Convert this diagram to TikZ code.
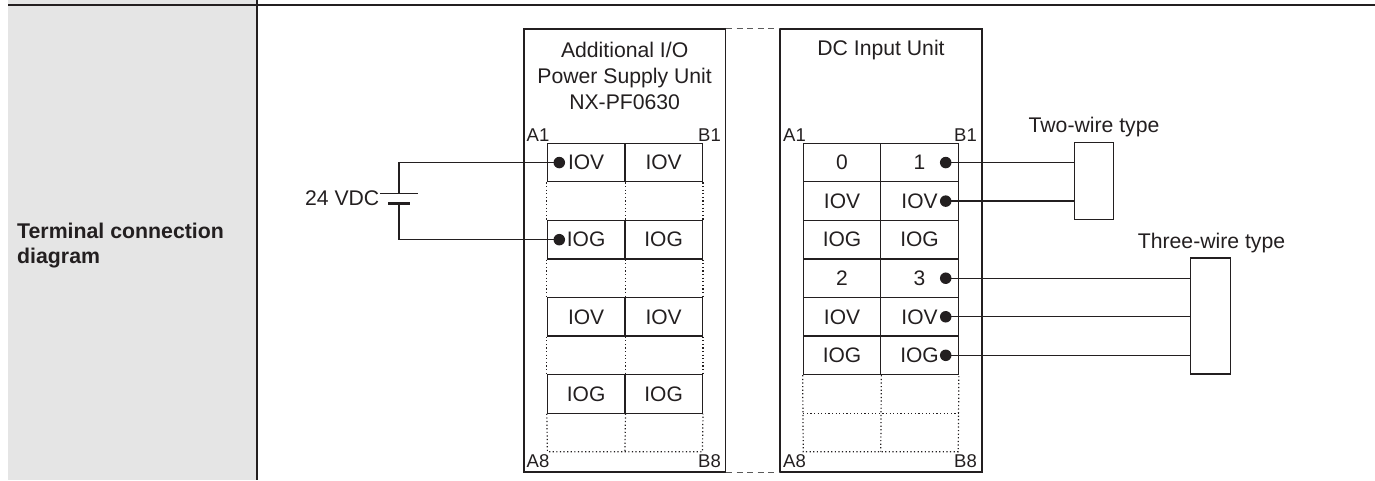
\documentclass[tikz,border=0pt]{standalone}
\usepackage{fontspec}
\setmainfont{Liberation Sans}
\definecolor{ink}{RGB}{35,31,32}
\definecolor{panel}{RGB}{229,229,229}
\definecolor{dashgray}{RGB}{90,90,90}
\begin{document}
\begin{tikzpicture}[x=1pt,y=-1pt,
  every node/.style={text=ink},
  cell/.style={draw=ink, line width=1.2pt, minimum width=77.5pt, minimum height=38.55pt, inner sep=0pt, font=\fontsize{21}{24}\selectfont},
  unitbox/.style={draw=ink, line width=1.5pt, inner sep=0pt},
  dot/.style={circle, fill=ink, inner sep=0pt, minimum size=11.5pt},
  wire/.style={draw=ink, line width=1.3pt},
  dotline/.style={draw=ink, line width=1.2pt, dash pattern=on 1.2pt off 2.4pt},
  pin/.style={font=\fontsize{18.5}{20}\selectfont, inner sep=0pt},
  lbl/.style={font=\fontsize{21.2}{26}\selectfont, inner sep=0pt, align=center},
  device/.style={draw=ink, line width=1.5pt, inner sep=0pt}
]
\useasboundingbox (0,0) rectangle (1375,480);
% table frame
\fill[panel] (8,0) rectangle (257.3,480);
\draw[ink, line width=1.1pt] (8,5) -- (1375,5);
\draw[ink, line width=1.8pt] (257.3,0) -- (257.3,480);
\node[anchor=west, align=left, inner sep=0pt, font=\fontsize{21.3}{25}\selectfont\bfseries] (title) at (17,245.5) {Terminal connection\\diagram};

% unit boxes
\node[unitbox, minimum width=201.3pt, minimum height=443pt] (PS) at (624.65,250.5) {};
\node[unitbox, minimum width=202pt, minimum height=443pt] (DC) at (881,250.5) {};
\draw[dashgray, line width=1.3pt, dash pattern=on 6pt off 4.5pt] (PS.north east) -- (DC.north west);
\draw[dashgray, line width=1.3pt, dash pattern=on 6pt off 4.5pt] (PS.south east) -- (DC.south west);

\node[lbl] (PSt) at (624.65,76) {Additional I/O\\Power Supply Unit\\NX-PF0630};
\node[lbl] (DCt) at (881,50) {DC Input Unit};

% pin labels
\node[pin, anchor=west] (pA1) at (526.5,135) {A1};
\node[pin, anchor=east] (pB1) at (721,135) {B1};
\node[pin, anchor=west] (pA8) at (526.5,461.5) {A8};
\node[pin, anchor=east] (pB8) at (721,461.5) {B8};
\node[pin, anchor=west] (qA1) at (783,135) {A1};
\node[pin, anchor=east] (qB1) at (977,135) {B1};
\node[pin, anchor=west] (qA8) at (783,461.5) {A8};
\node[pin, anchor=east] (qB8) at (977,461.5) {B8};

% power supply unit terminal block
\node[cell] (L1a) at (586.15,162.575) {IOV};
\node[cell] (L1b) at (663.65,162.575) {IOV};
\node[cell] (L3a) at (586.15,239.675) {IOG};
\node[cell] (L3b) at (663.65,239.675) {IOG};
\node[cell] (L5a) at (586.15,316.775) {IOV};
\node[cell] (L5b) at (663.65,316.775) {IOV};
\node[cell] (L7a) at (586.15,393.875) {IOG};
\node[cell] (L7b) at (663.65,393.875) {IOG};
\coordinate (L8w) at (547.4,451.7);
\coordinate (L8m) at (624.9,451.7);
\coordinate (L8e) at (702.4,451.7);
\foreach \u/\v in {L1/L3, L3/L5, L5/L7}{
  \draw[dotline] (\u a.south west) -- (\v a.north west);
  \draw[dotline] (\u a.south east) -- (\v a.north east);
  \draw[dotline] (\u b.south east) -- (\v b.north east);
}
\draw[dotline] (L7a.south west) -- (L8w) -- (L8e) -- (L7b.south east);
\draw[dotline] (L7a.south east) -- (L8m);

% DC input unit terminal block
\node[cell] (R1a) at (842,162.575) {0};
\node[cell] (R1b) at (919.5,162.575) {1\hspace{8pt}};
\node[cell] (R2a) at (842,201.125) {IOV};
\node[cell] (R2b) at (919.5,201.125) {IOV\hspace{5pt}};
\node[cell] (R3a) at (842,239.675) {IOG};
\node[cell] (R3b) at (919.5,239.675) {IOG};
\node[cell] (R4a) at (842,278.225) {2};
\node[cell] (R4b) at (919.5,278.225) {3\hspace{5pt}};
\node[cell] (R5a) at (842,316.775) {IOV};
\node[cell] (R5b) at (919.5,316.775) {IOV\hspace{9pt}};
\node[cell] (R6a) at (842,355.325) {IOG};
\node[cell] (R6b) at (919.5,355.325) {IOG\hspace{9pt}};
\coordinate (R7w) at (803.25,413.15);
\coordinate (R7e) at (958.25,413.15);
\coordinate (R8w) at (803.25,451.7);
\coordinate (R8m) at (880.75,451.7);
\coordinate (R8e) at (958.25,451.7);
\draw[dotline] (R6a.south west) -- (R8w) -- (R8e) -- (R6b.south east);
\draw[dotline] (R6a.south east) -- (R8m);
\draw[dotline] (R7w) -- (R7e);

% battery
\coordinate (batT) at (399,193.7);
\coordinate (batB) at (399,203.3);
\draw[ink, line width=1.2pt] ([xshift=-19pt]batT) -- ([xshift=19pt]batT);
\draw[ink, line width=3.2pt] ([xshift=-11pt]batB) -- ([xshift=11pt]batB);
\node[anchor=east, inner sep=0pt, font=\fontsize{21.2}{25}\selectfont] (vdc) at (379.5,198) {24 VDC};

% terminals (dots)
\node[dot] (dL1) at (559.3,162.575) {};
\node[dot] (dL3) at (559.3,239.675) {};
\node[dot] (dR1) at (945.7,162.575) {};
\node[dot] (dR2) at (945.7,201.125) {};
\node[dot] (dR4) at (945.7,278.225) {};
\node[dot] (dR5) at (945.7,316.775) {};
\node[dot] (dR6) at (945.7,355.325) {};

% supply wiring
\draw[wire] (dL1.center) -| (batT);
\draw[wire] (dL3.center) -| (batB);

% sensors
\node[device, minimum width=39.4pt, minimum height=76.6pt] (two) at (1094,181) {};
\node[device, minimum width=39.6pt, minimum height=116pt] (three) at (1210.5,316) {};
\node[lbl] (twot) at (1094,126.7) {Two-wire type};
\node[lbl] (threet) at (1211.5,243) {Three-wire type};

\draw[wire] (dR1.center) -- (dR1.center -| two.west);
\draw[wire] (dR2.center) -- (dR2.center -| two.west);
\draw[wire] (dR4.center) -- (dR4.center -| three.west);
\draw[wire] (dR5.center) -- (dR5.center -| three.west);
\draw[wire] (dR6.center) -- (dR6.center -| three.west);
\end{tikzpicture}
\end{document}
